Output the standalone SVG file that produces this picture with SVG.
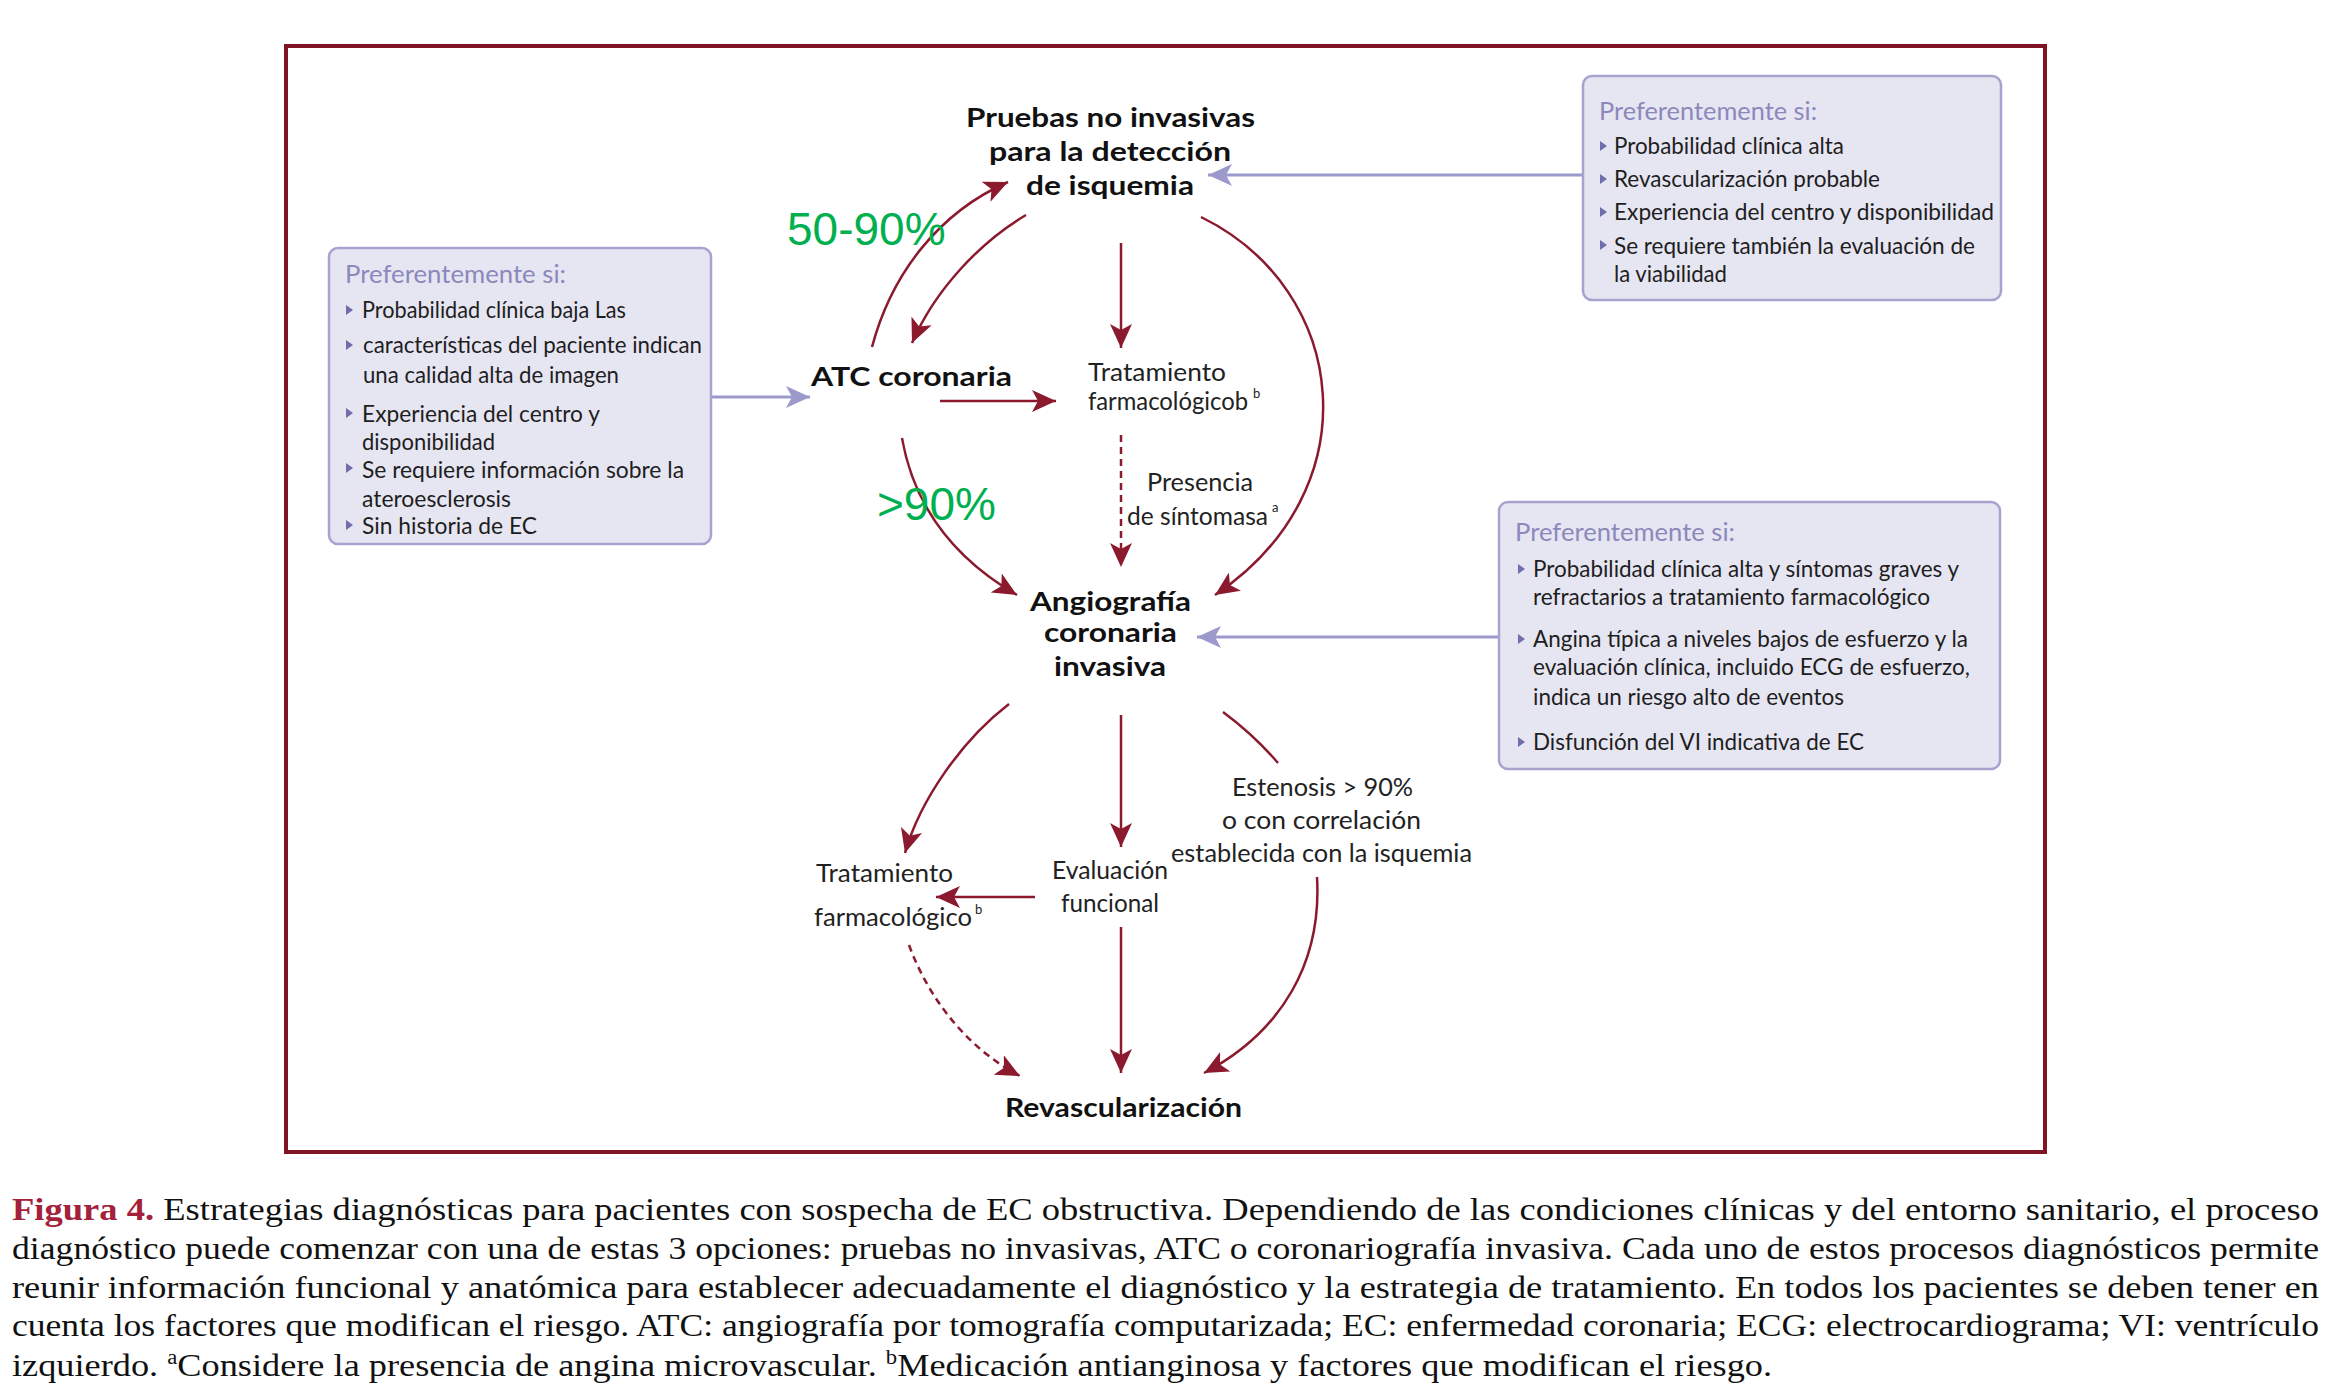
<svg xmlns="http://www.w3.org/2000/svg" xmlns:xlink="http://www.w3.org/1999/xlink" width="2331" height="1391" viewBox="0 0 2331 1391">
<style>
.box{fill:#E6E5F2;stroke:#A6A4CE;stroke-width:2.5}
.bt{font-family:Lato,"Liberation Sans",sans-serif;font-size:25px;fill:#8B88BC}
.bx{font-family:Lato,"Liberation Sans",sans-serif;font-size:23px;fill:#1E1E1E}
.nb{font-family:Lato,"Liberation Sans",sans-serif;font-size:27px;font-weight:bold;fill:#111}
.nr{font-family:Lato,"Liberation Sans",sans-serif;font-size:25px;fill:#222}
.sup{font-family:Lato,"Liberation Sans",sans-serif;font-size:13px;fill:#222}
.gr{font-family:"Liberation Sans",Arial,sans-serif;font-size:46px;fill:#00B050}
.cap{font-family:"Liberation Serif","Times New Roman",serif;font-size:32px;fill:#111}
.red{fill:none;stroke:#8B1A2E;stroke-width:2.5}
.dash{stroke-dasharray:7 5}
.pur{fill:none;stroke:#9C9ACD;stroke-width:3}
.bul{fill:#6F6DAA}
</style>
<defs>
<marker id="ar" markerUnits="userSpaceOnUse" markerWidth="26" markerHeight="22" refX="24" refY="11" orient="auto"><path d="M0,0 L24,11 L0,22 L6,11 z" fill="#8B1A2E"/></marker>
<marker id="ap" markerUnits="userSpaceOnUse" markerWidth="26" markerHeight="22" refX="24" refY="11" orient="auto"><path d="M0,0 L24,11 L0,22 L6,11 z" fill="#9C9ACD"/></marker>
<path id="b" d="M0,-5 L7,0 L0,5 z"/>
</defs>
<rect x="286" y="46" width="1759" height="1106" fill="#fff" stroke="#7E1424" stroke-width="4"/>

<g id="connectors">
<path class="red" marker-end="url(#ar)" d="M872,347 C892,272 940,212 1008,182"/>
<path class="red" marker-end="url(#ar)" d="M1026,215 C980,242 935,290 912,343"/>
<path class="red" marker-end="url(#ar)" d="M1121,243 L1121,348"/>
<path class="red" marker-end="url(#ar)" d="M940,401 L1056,401"/>
<path class="red dash" marker-end="url(#ar)" d="M1121,435 L1121,567"/>
<path class="red" marker-end="url(#ar)" d="M902,438 C915,512 960,562 1017,595"/>
<path class="red" marker-end="url(#ar)" d="M1201,217 C1350,290 1372,490 1215,595"/>
<path class="pur" marker-end="url(#ap)" d="M1582,175 L1208,175"/>
<path class="pur" marker-end="url(#ap)" d="M711,397 L810,397"/>
<path class="pur" marker-end="url(#ap)" d="M1498,637 L1197,637"/>
<path class="red" marker-end="url(#ar)" d="M1009,704 C962,740 920,800 905,853"/>
<path class="red" marker-end="url(#ar)" d="M1121,715 L1121,847"/>
<path class="red" d="M1223,712 Q1254,735 1278,763"/>
<path class="red" marker-end="url(#ar)" d="M1035,897 L936,897"/>
<path class="red" marker-end="url(#ar)" d="M1121,927 L1121,1073"/>
<path class="red" marker-end="url(#ar)" d="M1317,877 C1322,962 1282,1032 1204,1073"/>
<path class="red dash" marker-end="url(#ar)" d="M909,945 C930,1002 970,1050 1020,1076"/>
</g>

<g id="box-left">
<rect class="box" x="329" y="248" width="382" height="296" rx="9"/>
<text class="bt" x="345" y="283" textLength="221" lengthAdjust="spacingAndGlyphs">Preferentemente si:</text>
<use href="#b" class="bul" x="346" y="310"/>
<use href="#b" class="bul" x="346" y="345"/>
<use href="#b" class="bul" x="346" y="413"/>
<use href="#b" class="bul" x="346" y="468"/>
<use href="#b" class="bul" x="346" y="525"/>
<text class="bx" x="362" y="318" textLength="264" lengthAdjust="spacingAndGlyphs">Probabilidad clínica baja Las</text>
<text class="bx" x="363" y="353" textLength="339" lengthAdjust="spacingAndGlyphs">características del paciente indican</text>
<text class="bx" x="363" y="383" textLength="256" lengthAdjust="spacingAndGlyphs">una calidad alta de imagen</text>
<text class="bx" x="362" y="422" textLength="238" lengthAdjust="spacingAndGlyphs">Experiencia del centro y</text>
<text class="bx" x="362" y="450" textLength="133" lengthAdjust="spacingAndGlyphs">disponibilidad</text>
<text class="bx" x="362" y="478" textLength="322" lengthAdjust="spacingAndGlyphs">Se requiere información sobre la</text>
<text class="bx" x="362" y="507" textLength="149" lengthAdjust="spacingAndGlyphs">ateroesclerosis</text>
<text class="bx" x="362" y="534" textLength="175" lengthAdjust="spacingAndGlyphs">Sin historia de EC</text>
</g>

<g id="box-top-right">
<rect class="box" x="1583" y="76" width="418" height="224" rx="9"/>
<text class="bt" x="1599" y="120" textLength="218" lengthAdjust="spacingAndGlyphs">Preferentemente si:</text>
<use href="#b" class="bul" x="1600" y="146"/>
<use href="#b" class="bul" x="1600" y="179"/>
<use href="#b" class="bul" x="1600" y="212"/>
<use href="#b" class="bul" x="1600" y="245"/>
<text class="bx" x="1614" y="154" textLength="230" lengthAdjust="spacingAndGlyphs">Probabilidad clínica alta</text>
<text class="bx" x="1614" y="187" textLength="266" lengthAdjust="spacingAndGlyphs">Revascularización probable</text>
<text class="bx" x="1614" y="220" textLength="380" lengthAdjust="spacingAndGlyphs">Experiencia del centro y disponibilidad</text>
<text class="bx" x="1614" y="254" textLength="361" lengthAdjust="spacingAndGlyphs">Se requiere también la evaluación de</text>
<text class="bx" x="1614" y="282" textLength="113" lengthAdjust="spacingAndGlyphs">la viabilidad</text>
</g>

<g id="box-mid-right">
<rect class="box" x="1499" y="502" width="501" height="267" rx="9"/>
<text class="bt" x="1515" y="541" textLength="220" lengthAdjust="spacingAndGlyphs">Preferentemente si:</text>
<use href="#b" class="bul" x="1518" y="569"/>
<use href="#b" class="bul" x="1518" y="639"/>
<use href="#b" class="bul" x="1518" y="742"/>
<text class="bx" x="1533" y="577" textLength="426" lengthAdjust="spacingAndGlyphs">Probabilidad clínica alta y síntomas graves y</text>
<text class="bx" x="1533" y="605" textLength="397" lengthAdjust="spacingAndGlyphs">refractarios a tratamiento farmacológico</text>
<text class="bx" x="1533" y="647" textLength="435" lengthAdjust="spacingAndGlyphs">Angina típica a niveles bajos de esfuerzo y la</text>
<text class="bx" x="1533" y="675" textLength="437" lengthAdjust="spacingAndGlyphs">evaluación clínica, incluido ECG de esfuerzo,</text>
<text class="bx" x="1533" y="705" textLength="311" lengthAdjust="spacingAndGlyphs">indica un riesgo alto de eventos</text>
<text class="bx" x="1533" y="750" textLength="331" lengthAdjust="spacingAndGlyphs">Disfunción del VI indicativa de EC</text>
</g>

<g id="node-pruebas">
<text class="nb" x="966" y="127" textLength="289" lengthAdjust="spacingAndGlyphs">Pruebas no invasivas</text>
<text class="nb" x="989" y="161" textLength="242" lengthAdjust="spacingAndGlyphs">para la detección</text>
<text class="nb" x="1026" y="195" textLength="168" lengthAdjust="spacingAndGlyphs">de isquemia</text>
</g>
<g id="node-atc">
<text class="nb" x="811" y="386" textLength="201" lengthAdjust="spacingAndGlyphs">ATC coronaria</text>
</g>
<g id="node-trat1">
<text class="nr" x="1088" y="381" textLength="138" lengthAdjust="spacingAndGlyphs">Tratamiento</text>
<text class="nr" x="1088" y="410" textLength="160" lengthAdjust="spacingAndGlyphs">farmacológicob</text>
<text class="sup" x="1253" y="398">b</text>
</g>
<g id="label-presencia">
<text class="nr" x="1147" y="491" textLength="106" lengthAdjust="spacingAndGlyphs">Presencia</text>
<text class="nr" x="1127" y="525" textLength="141" lengthAdjust="spacingAndGlyphs">de síntomasa</text>
<text class="sup" x="1272" y="512">a</text>
</g>
<g id="node-angio">
<text class="nb" x="1030" y="611" textLength="161" lengthAdjust="spacingAndGlyphs">Angiografía</text>
<text class="nb" x="1044" y="642" textLength="133" lengthAdjust="spacingAndGlyphs">coronaria</text>
<text class="nb" x="1054" y="676" textLength="112" lengthAdjust="spacingAndGlyphs">invasiva</text>
</g>
<g id="node-trat2">
<text class="nr" x="816" y="882" textLength="137" lengthAdjust="spacingAndGlyphs">Tratamiento</text>
<text class="nr" x="814" y="926" textLength="158" lengthAdjust="spacingAndGlyphs">farmacológico</text>
<text class="sup" x="975" y="914">b</text>
</g>
<g id="node-eval">
<text class="nr" x="1052" y="879" textLength="116" lengthAdjust="spacingAndGlyphs">Evaluación</text>
<text class="nr" x="1061" y="912" textLength="98" lengthAdjust="spacingAndGlyphs">funcional</text>
</g>
<g id="label-estenosis">
<text class="nr" x="1232" y="796" textLength="181" lengthAdjust="spacingAndGlyphs">Estenosis &gt; 90%</text>
<text class="nr" x="1222" y="829" textLength="199" lengthAdjust="spacingAndGlyphs">o con correlación</text>
<text class="nr" x="1171" y="862" textLength="301" lengthAdjust="spacingAndGlyphs">establecida con la isquemia</text>
</g>
<g id="node-revasc">
<text class="nb" x="1005" y="1117" textLength="237" lengthAdjust="spacingAndGlyphs">Revascularización</text>
</g>
<g id="pct">
<text class="gr" x="787" y="245">50-90%</text>
<text class="gr" x="877" y="520">&gt;90%</text>
</g>

<g id="caption">
<text class="cap" x="12" y="1220" textLength="2307" lengthAdjust="spacingAndGlyphs"><tspan font-weight="bold" fill="#A3213A">Figura 4.</tspan> Estrategias diagnósticas para pacientes con sospecha de EC obstructiva. Dependiendo de las condiciones clínicas y del entorno sanitario, el proceso</text>
<text class="cap" x="12" y="1259" textLength="2307" lengthAdjust="spacingAndGlyphs">diagnóstico puede comenzar con una de estas 3 opciones: pruebas no invasivas, ATC o coronariografía invasiva. Cada uno de estos procesos diagnósticos permite</text>
<text class="cap" x="12" y="1298" textLength="2307" lengthAdjust="spacingAndGlyphs">reunir información funcional y anatómica para establecer adecuadamente el diagnóstico y la estrategia de tratamiento. En todos los pacientes se deben tener en</text>
<text class="cap" x="12" y="1336" textLength="2307" lengthAdjust="spacingAndGlyphs">cuenta los factores que modifican el riesgo. ATC: angiografía por tomografía computarizada; EC: enfermedad coronaria; ECG: electrocardiograma; VI: ventrículo</text>
<text class="cap" x="12" y="1376" textLength="1760" lengthAdjust="spacingAndGlyphs">izquierdo. <tspan font-size="20" dy="-12">a</tspan><tspan dy="12">Considere la presencia de angina microvascular. </tspan><tspan font-size="20" dy="-12">b</tspan><tspan dy="12">Medicación antianginosa y factores que modifican el riesgo.</tspan></text>
</g>
</svg>
